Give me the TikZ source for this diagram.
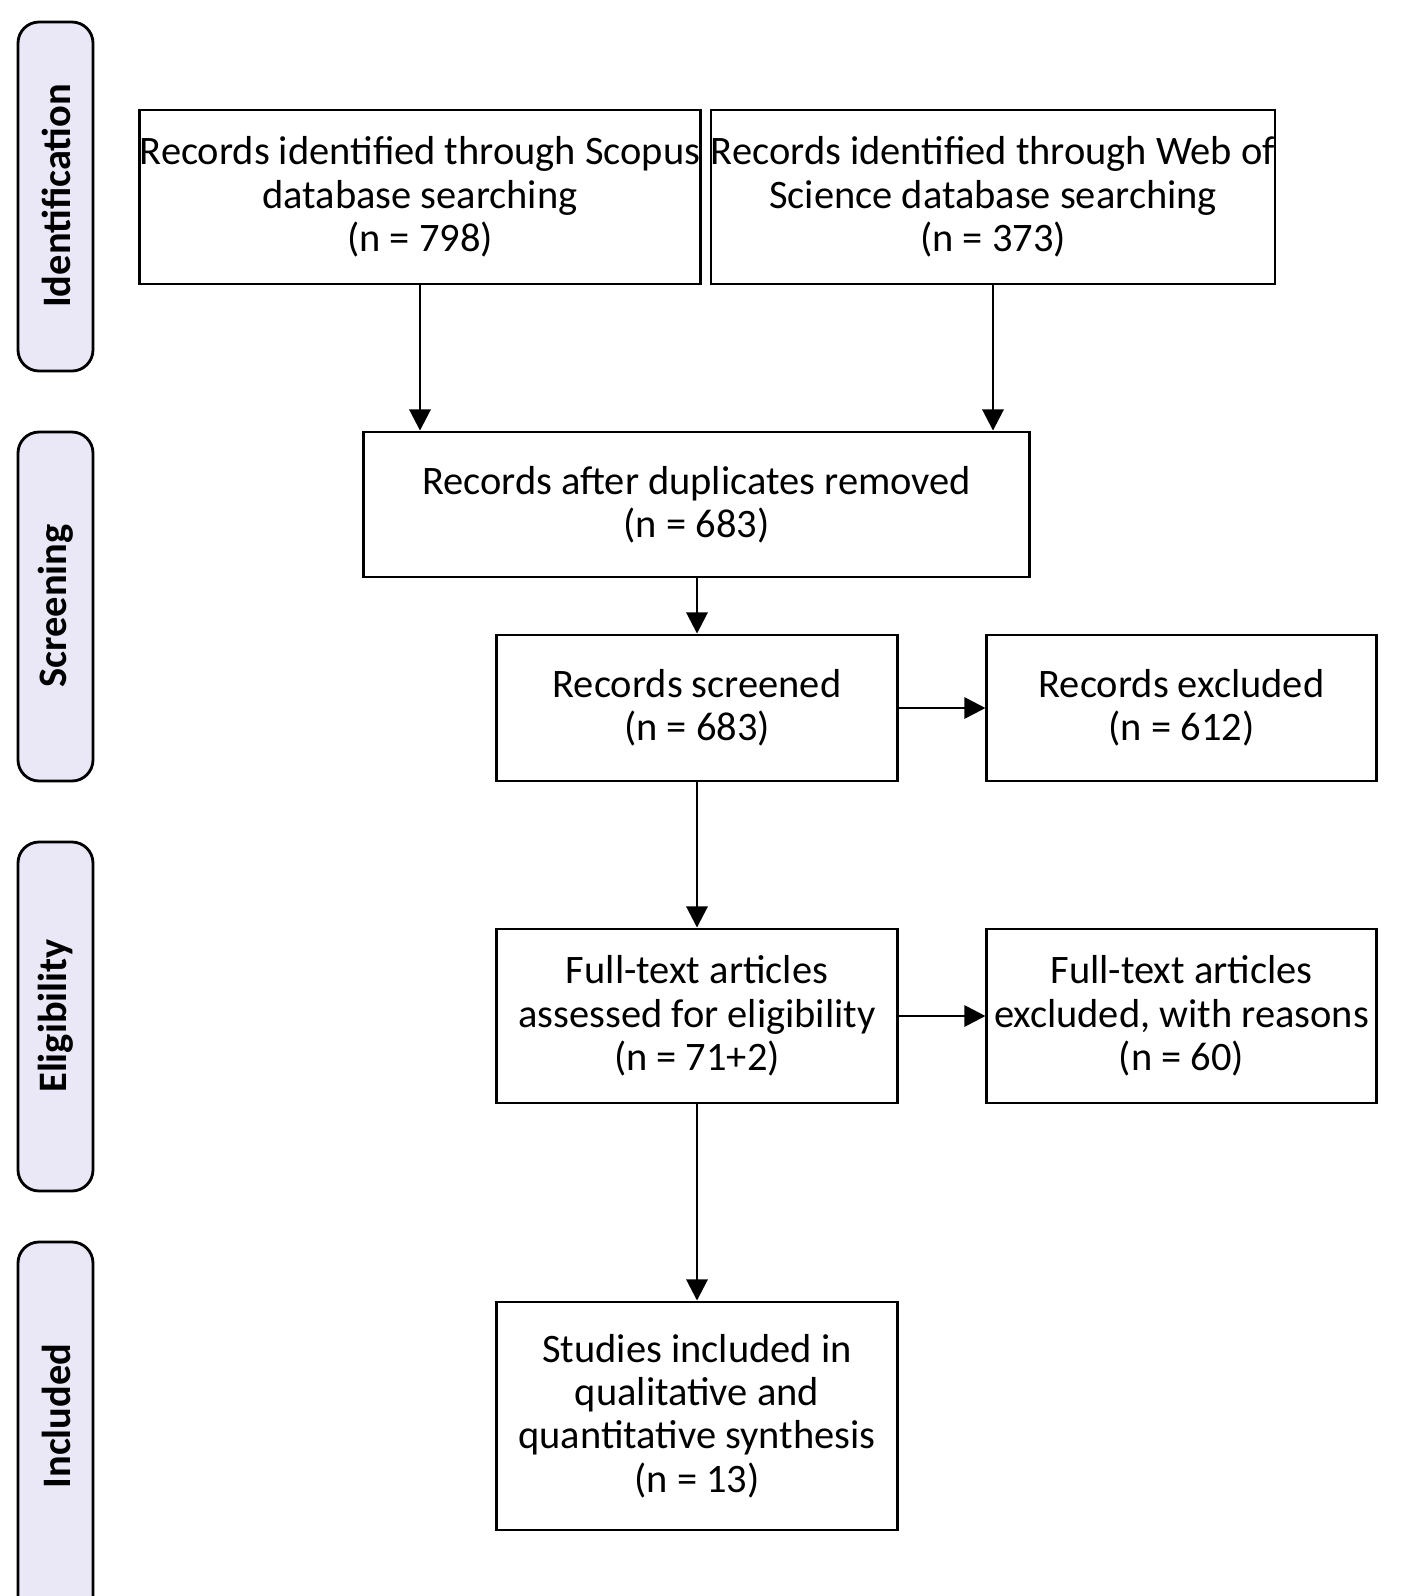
\documentclass[tikz,border=0pt]{standalone}
\usepackage{fontspec}
\setmainfont{Carlito}
\usetikzlibrary{arrows.meta}
\begin{document}
\begin{tikzpicture}[x=0.01cm,y=-0.01cm,
  box/.style={draw,line width=0.8pt,inner sep=0pt,align=center,font=\fontsize{11.5}{12.3}\selectfont},
  side/.style={draw,line width=0.8pt,rounded corners=6pt,fill=cyan!12!blue!8!white},
  sidelab/.style={rotate=90,font=\bfseries\fontsize{11.5}{13}\selectfont},
  arr/.style={-{Triangle[length=6pt,width=6pt]},line width=0.8pt}]
\useasboundingbox (0,0) rectangle (1428,1596);
\foreach \a/\b/\t/\n in {22/371/Identification/s1,432/781/Screening/s2,842/1191/Eligibility/s3,1242/1620/Included/s4}{
  \draw[side] (18,\a) rectangle (93,\b);
}
\node[sidelab] (l1) at (56,196) {Identification};
\node[sidelab] (l2) at (56,606) {Screening};
\node[sidelab] (l3) at (56,1016) {Eligibility};
\node[sidelab] (l4) at (56,1416) {Included};
\node[box,minimum width=5.5cm,minimum height=1.74cm] (sc) at (420,197) {Records identified through Scopus\\database searching\\(n = 798)};
\node[box,minimum width=5.5cm,minimum height=1.74cm] (ws) at (993,197) {Records identified through Web of\\Science database searching\\(n = 373)};
\node[box,minimum width=6.65cm,minimum height=1.45cm] (du) at (696.5,504.5) {Records after duplicates removed\\(n = 683)};
\node[box,minimum width=4cm,minimum height=1.46cm] (rs) at (697,708) {Records screened\\(n = 683)};
\node[box,minimum width=3.89cm,minimum height=1.46cm] (re) at (1181.5,708) {Records excluded\\(n = 612)};
\node[box,minimum width=4cm,minimum height=1.74cm] (ft) at (697,1016) {Full-text articles\\assessed for eligibility\\(n = 71+2)};
\node[box,minimum width=3.89cm,minimum height=1.74cm] (fe) at (1181.5,1016) {Full-text articles\\excluded, with reasons\\(n = 60)};
\node[box,minimum width=4cm,minimum height=2.28cm] (in) at (697,1416) {Studies included in\\qualitative and\\quantitative synthesis\\(n = 13)};
\draw[arr] (sc.south) -- (sc.south |- du.north);
\draw[arr] (ws.south) -- (ws.south |- du.north);
\draw[arr] (du.south -| rs.north) -- (rs.north);
\draw[arr] (rs) -- (ft);
\draw[arr] (ft) -- (in);
\draw[arr] (rs) -- (re);
\draw[arr] (ft) -- (fe);
\end{tikzpicture}
\end{document}
